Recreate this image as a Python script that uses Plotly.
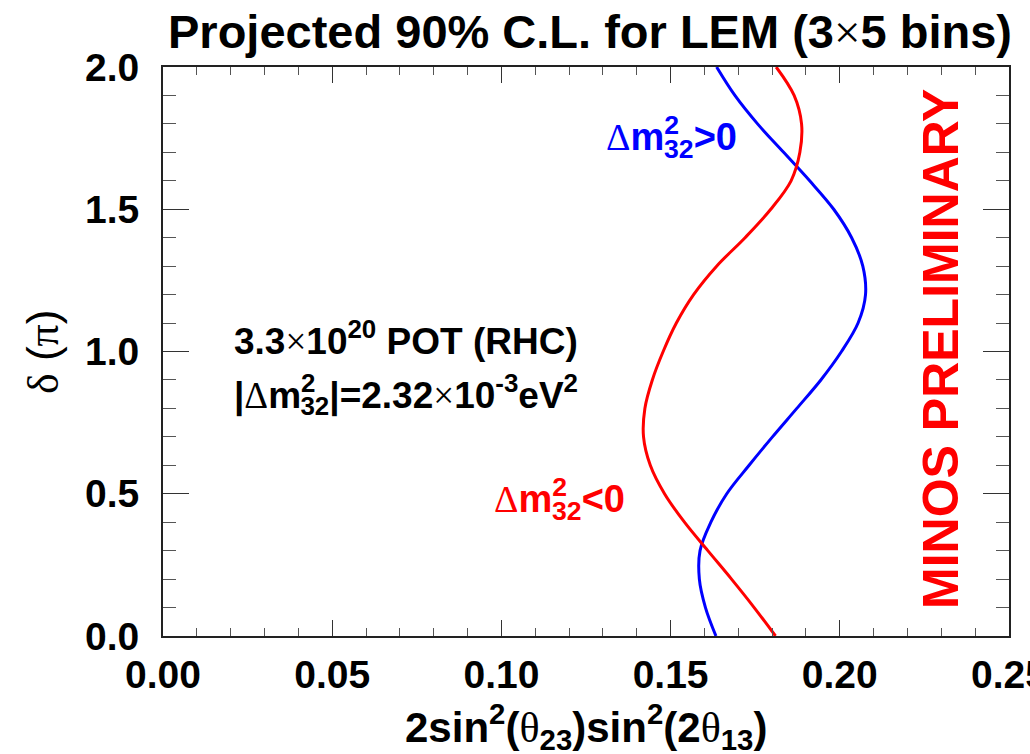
import plotly.graph_objects as go

# delta_CP (in units of pi) at which the two 90% C.L. contours are sampled
delta_pi = [0.0, 0.1, 0.2, 0.3, 0.4, 0.5, 0.6, 0.7, 0.8, 0.9, 1.0,
            1.1, 1.2, 1.3, 1.4, 1.5, 1.6, 1.7, 1.8, 1.9, 2.0]

# 2 sin^2(theta23) sin^2(2 theta13) on the contour, dm2_32 > 0
x_normal = [0.1634, 0.1603, 0.1585, 0.1587, 0.1619, 0.1666, 0.1732, 0.1801,
            0.1873, 0.1944, 0.2005, 0.2054, 0.2076, 0.2068, 0.2035, 0.1982,
            0.1911, 0.1834, 0.1757, 0.1690, 0.1636]

# 2 sin^2(theta23) sin^2(2 theta13) on the contour, dm2_32 < 0
x_inverted = [0.1810, 0.1747, 0.1680, 0.1610, 0.1541, 0.1482, 0.1440, 0.1420,
              0.1424, 0.1446, 0.1478, 0.1517, 0.1568, 0.1636, 0.1720, 0.1796,
              0.1856, 0.1882, 0.1887, 0.1865, 0.1812]

x_ticks = [0.00, 0.05, 0.10, 0.15, 0.20, 0.25]
x_tick_text = ["0.00", "0.05", "0.10", "0.15", "0.20", "0.25"]
y_ticks = [0.0, 0.5, 1.0, 1.5, 2.0]
y_tick_text = ["0.0", "0.5", "1.0", "1.5", "2.0"]

W, H = 1030, 754
L, R, T, B = 163, 1009, 67, 636          # frame edges in pixels

SANS = "Liberation Sans, Arial, Helvetica, sans-serif"
SERIF = "'Liberation Serif', 'Times New Roman', serif"


def px(x):
    return (x - L) / (R - L)


def py(y):
    return (B - y) / (B - T)


def greek(ch):
    return f'<span style="font-family:{SERIF};font-weight:normal">{ch}</span>'


def stacked(sup, sub, shift):
    # superscript and subscript placed one above the other
    return (f'<sup style="letter-spacing:-{shift}px">{sup}</sup>'
            f'<sub>{sub}</sub>')


fig = go.Figure()

fig.add_trace(go.Scatter(
    x=x_normal, y=delta_pi, mode="lines",
    line=dict(color="#0000ff", width=3, shape="spline", smoothing=1.0),
    showlegend=False, hoverinfo="skip"))

fig.add_trace(go.Scatter(
    x=x_inverted, y=delta_pi, mode="lines",
    line=dict(color="#ff0000", width=3, shape="spline", smoothing=1.0),
    showlegend=False, hoverinfo="skip"))

axis_common = dict(
    showline=True, linecolor="#222", linewidth=2, mirror="ticks",
    ticks="inside", tickcolor="#333", tickwidth=1,
    showgrid=False, zeroline=False,
    tickfont=dict(family=SANS, size=39, color="black", weight="bold"),
    ticklabeloverflow="allow",
)

fig.update_xaxes(
    range=[0, 0.25], tickmode="array", tickvals=x_ticks, ticktext=x_tick_text,
    ticklen=16, ticklabelstandoff=3,
    minor=dict(ticks="inside", dtick=0.01, tick0=0, ticklen=8,
               tickcolor="#555", tickwidth=1, showgrid=False),
    **axis_common)

fig.update_yaxes(
    range=[0, 2.0], tickmode="array", tickvals=y_ticks, ticktext=y_tick_text,
    ticklen=26, ticklabelstandoff=14,
    minor=dict(ticks="inside", dtick=0.1, tick0=0, ticklen=13,
               tickcolor="#555", tickwidth=1, showgrid=False),
    **axis_common)

annotations = []

# title
annotations.append(dict(
    text=f"Projected 90% C.L. for LEM (3{greek('×')}5 bins)",
    x=px(166), y=py(31), xanchor="left", yanchor="middle",
    font=dict(family=SANS, size=47, color="black", weight="bold")))

# x axis title
annotations.append(dict(
    text=(f"2sin<sup>2</sup>({greek('θ')}<sub>23</sub>)"
          f"sin<sup>2</sup>(2{greek('θ')}<sub>13</sub>)"),
    x=px(586), y=py(726), xanchor="center", yanchor="middle",
    font=dict(family=SANS, size=42, color="black", weight="bold")))

# y axis title
annotations.append(dict(
    text=f"{greek('δ')} ({greek('π')})",
    x=px(43), y=py(351), xanchor="center", yanchor="middle", textangle=-90,
    font=dict(family=SANS, size=44, color="black", weight="normal")))

# exposure and mass splitting
annotations.append(dict(
    text=f"3.3{greek('×')}10<sup>20</sup> POT (RHC)",
    x=px(232), y=py(338), xanchor="left", yanchor="middle",
    font=dict(family=SANS, size=37, color="black", weight="bold")))

annotations.append(dict(
    text=(f"|{greek('Δ')}m{stacked('2', '32', 15)}|=2.32{greek('×')}"
          f"10<sup>-3</sup>eV<sup>2</sup>"),
    x=px(232), y=py(394), xanchor="left", yanchor="middle",
    font=dict(family=SANS, size=37, color="black", weight="bold")))

# hierarchy labels
annotations.append(dict(
    text=f"{greek('Δ')}m{stacked('2', '32', 15)}&gt;0",
    x=px(604), y=py(140), xanchor="left", yanchor="middle",
    font=dict(family=SANS, size=38, color="#0000ff", weight="bold")))

annotations.append(dict(
    text=f"{greek('Δ')}m{stacked('2', '32', 15)}&lt;0",
    x=px(492), y=py(502), xanchor="left", yanchor="middle",
    font=dict(family=SANS, size=38, color="#ff0000", weight="bold")))

# preliminary stamp
annotations.append(dict(
    text="MINOS PRELIMINARY",
    x=px(941), y=py(349), xanchor="center", yanchor="middle", textangle=-90,
    font=dict(family=SANS, size=50, color="#ff0000", weight="bold")))

for a in annotations:
    a.update(xref="paper", yref="paper", showarrow=False)

fig.update_layout(
    width=W, height=H,
    margin=dict(l=L, r=W - R, t=T, b=H - B, pad=0, autoexpand=False),
    paper_bgcolor="white", plot_bgcolor="white",
    annotations=annotations,
)

fig.write_html("out.html")
